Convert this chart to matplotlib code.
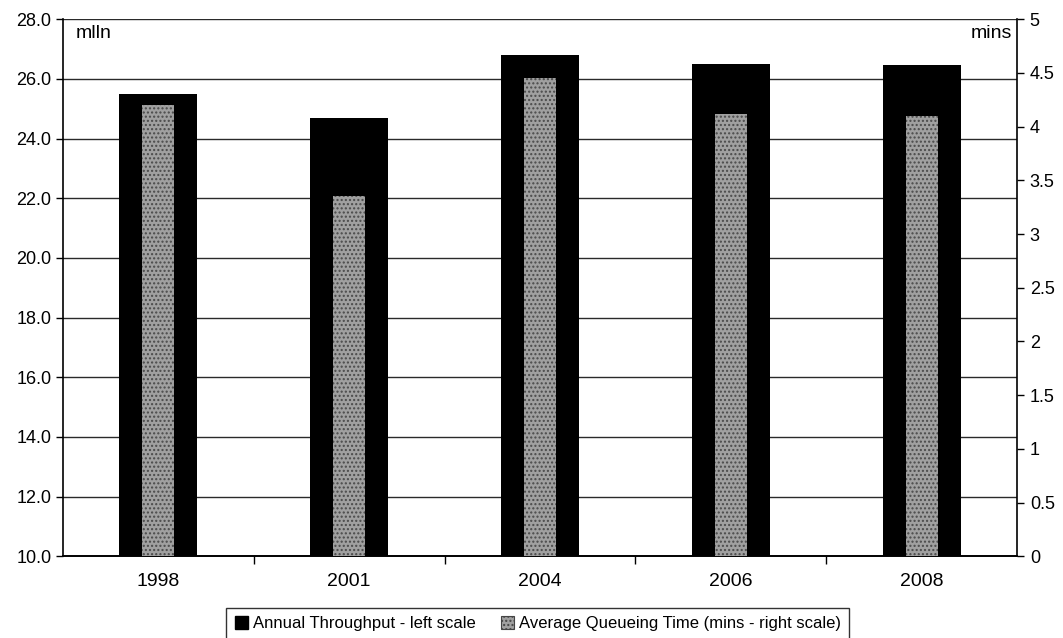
import matplotlib
matplotlib.use("Agg")
import matplotlib.pyplot as plt
import matplotlib.ticker as ticker
import numpy as np

plt.rcParams['font.family'] = ['Liberation Sans', 'DejaVu Sans']

# values
years = ['1998', '2001', '2004', '2006', '2008']
throughput = [25.5, 24.7, 26.8, 26.5, 26.45]   # mlln, left scale
queue_time = [4.2, 3.35, 4.45, 4.12, 4.1]      # mins, right scale
left_ticks = [10.0, 12.0, 14.0, 16.0, 18.0, 20.0, 22.0, 24.0, 26.0, 28.0]
right_ticks = [0, 0.5, 1, 1.5, 2, 2.5, 3, 3.5, 4, 4.5, 5]

fig = plt.figure(figsize=(10.63, 6.38), dpi=100)
ax = fig.add_axes([0.059, 0.128, 0.898, 0.842])
ax2 = ax.twinx()

x = np.arange(len(years))

# black throughput bars
ax.bar(x, throughput, width=0.41, bottom=0, color='black', zorder=2)
ax.set_ylim(10, 28)
ax.set_xlim(-0.5, len(years) - 0.5)
ax.set_yticks(left_ticks)
ax.yaxis.set_major_formatter(ticker.FormatStrFormatter('%.1f'))
for t in left_ticks[1:]:
    ax.axhline(t, color='#2a2a2a', lw=1.0, zorder=1)

# stippled grey queueing time bars
ax2.bar(x, queue_time, width=0.165, color='#a0a0a0', edgecolor='#4a4a4a',
        linewidth=0, hatch='....', zorder=3)
ax2.set_ylim(0, 5)
ax2.set_yticks(right_ticks)
ax2.yaxis.set_major_formatter(ticker.FuncFormatter(lambda v, p: '%g' % v))

# x axis: labels centred under bars, ticks on category boundaries
ax.set_xticks(x)
ax.set_xticklabels(years)
ax.tick_params(axis='x', length=0, pad=12, labelsize=14)
ax.set_xticks(np.arange(0.5, len(years) - 0.5, 1), minor=True)
ax.tick_params(axis='x', which='minor', length=6, width=1, direction='out')

ax.tick_params(axis='y', labelsize=13, length=5, width=1, direction='out', pad=3)
ax2.tick_params(axis='y', labelsize=13, length=5, width=1, direction='out', pad=4)

for a in (ax, ax2):
    a.spines['top'].set_visible(False)
    a.spines['left'].set_linewidth(1.2)
    a.spines['right'].set_linewidth(1.2)
    a.spines['bottom'].set_linewidth(1.2)
ax2.spines['left'].set_visible(False)
ax.spines['right'].set_visible(False)

ax.text(0.014, 0.99, 'mlln', transform=ax.transAxes, fontsize=14,
        ha='left', va='top')
ax2.text(0.994, 0.99, 'mins', transform=ax2.transAxes, fontsize=14,
         ha='right', va='top')

# legend below the plot
h1 = plt.Rectangle((0, 0), 1, 1, facecolor='black', edgecolor='black')
h2 = plt.Rectangle((0, 0), 1, 1, facecolor='#a0a0a0', edgecolor='#444444',
                   hatch='....', linewidth=0.8)
leg = fig.legend([h1, h2],
                 ['Annual Throughput - left scale',
                  'Average Queueing Time (mins - right scale)'],
                 loc='lower center', bbox_to_anchor=(0.506, -0.01), ncol=2,
                 fontsize=12, frameon=True, fancybox=False, edgecolor='black',
                 handlelength=0.8, handleheight=0.8, handletextpad=0.3,
                 columnspacing=1.5, borderpad=0.5, borderaxespad=0.3)
leg.get_frame().set_linewidth(1.0)

fig.savefig('out.png', dpi=100)
